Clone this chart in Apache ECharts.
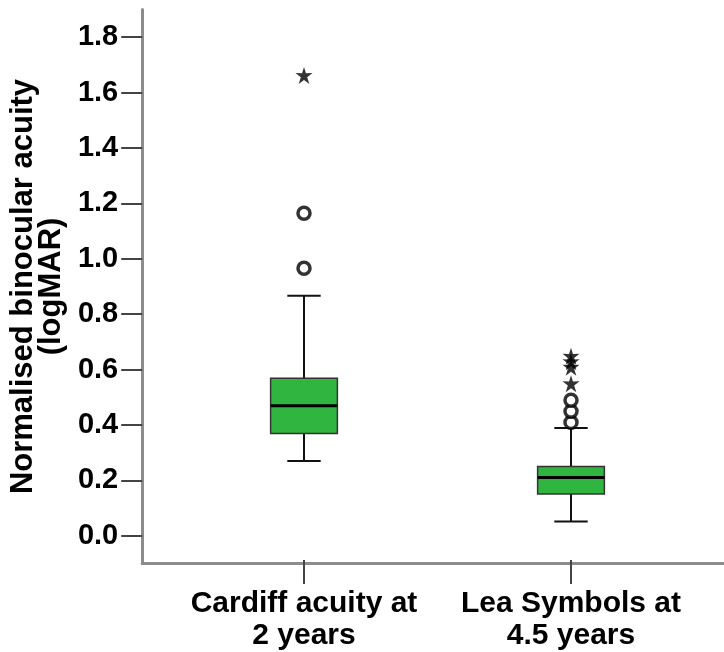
<!DOCTYPE html>
<html>
<head>
<meta charset="utf-8">
<script src="https://cdn.jsdelivr.net/npm/echarts@6/dist/echarts.min.js"></script>
<style>
html,body{margin:0;padding:0;background:#fff;}
#chart{width:724px;height:652px;}
</style>
</head>
<body>
<div id="chart"></div>
<script>
const categories = ['Cardiff acuity at\n2 years', 'Lea Symbols at\n4.5 years'];
// [min whisker, Q1, median, Q3, max whisker]
const boxStats = [
  [0.26, 0.36, 0.46, 0.56, 0.86],
  [0.04, 0.14, 0.20, 0.24, 0.38]
];
// circles: [category index, value]
const mildOutliers = [[0, 0.96], [0, 1.16], [1, 0.40], [1, 0.44], [1, 0.48]];
// stars: [category index, value]
const extremeOutliers = [[0, 1.66], [1, 0.54], [1, 0.60], [1, 0.62], [1, 0.64]];
const yTicks = [0, 0.2, 0.4, 0.6, 0.8, 1.0, 1.2, 1.4, 1.6, 1.8];
const yTitle = 'Normalised binocular acuity\n(logMAR)';

const FONT = 'Liberation Sans';
const chart = echarts.init(document.getElementById('chart'), null, {renderer: 'canvas'});

const starPath = 'path://M50,0 L61,34 L98,33 L68,56 L80,93 L50,71 L20,93 L32,56 L2,33 L39,34 Z';

const option = {
  animation: false,
  backgroundColor: '#fff',
  grid: [
    {left: 141, right: 0, top: 9.5, bottom: 88.5},
    {left: 170.5, right: 19.5, top: 9.5, bottom: 88.5}
  ],
  xAxis: [
    {
      gridIndex: 0, type: 'value', min: 0, max: 1, position: 'bottom',
      axisLine: {show: true, onZero: false, lineStyle: {color: '#8c8c8c', width: 3}},
      axisTick: {show: false}, axisLabel: {show: false}, splitLine: {show: false}
    },
    {
      gridIndex: 1, type: 'category', data: categories, boundaryGap: true, position: 'bottom',
      axisLine: {show: false, onZero: false},
      axisTick: {show: true, alignWithLabel: true, length: 24, lineStyle: {color: '#444', width: 2}},
      axisLabel: {
        interval: 0, margin: 28, fontFamily: FONT, fontSize: 30, fontWeight: 'bold', color: '#000',
        lineHeight: 32, align: 'center'
      },
      splitLine: {show: false}
    }
  ],
  yAxis: [
    {
      gridIndex: 0, type: 'value', min: -0.1, max: 1.9,
      name: yTitle, nameLocation: 'middle', nameGap: 72, nameRotate: 90,
      nameTextStyle: {fontFamily: FONT, fontSize: 31, fontWeight: 'bold', color: '#000', lineHeight: 28, align: 'center'},
      axisLine: {show: true, onZero: false, lineStyle: {color: '#8c8c8c', width: 3}},
      axisTick: {show: true, length: 21, customValues: yTicks, lineStyle: {color: '#444', width: 2}},
      axisLabel: {
        show: true, customValues: yTicks, margin: 24,
        fontFamily: FONT, fontSize: 29, fontWeight: 'bold', color: '#000',
        formatter: v => v.toFixed(1)
      },
      splitLine: {show: false}
    },
    {
      gridIndex: 1, type: 'value', min: -0.1, max: 1.9,
      axisLine: {show: false}, axisTick: {show: false}, axisLabel: {show: false}, splitLine: {show: false}
    }
  ],
  series: [
    {
      type: 'custom',
      xAxisIndex: 1, yAxisIndex: 1,
      data: boxStats.map((s, i) => [i].concat(s)),
      encode: {x: 0, y: [1, 2, 3, 4, 5]},
      renderItem: function (params, api) {
        const c = api.value(0);
        const pMin = api.coord([c, api.value(1)]);
        const pQ1 = api.coord([c, api.value(2)]);
        const pMed = api.coord([c, api.value(3)]);
        const pQ3 = api.coord([c, api.value(4)]);
        const pMax = api.coord([c, api.value(5)]);
        const band = api.size([1, 0])[0];
        const bw = band * 0.25;
        const cw = bw / 2;
        const x = pMed[0];
        const lineStyle = {stroke: '#111', lineWidth: 2};
        return {
          type: 'group',
          children: [
            {type: 'line', shape: {x1: x, y1: pMax[1], x2: x, y2: pQ3[1]}, style: lineStyle},
            {type: 'line', shape: {x1: x, y1: pQ1[1], x2: x, y2: pMin[1]}, style: lineStyle},
            {type: 'line', shape: {x1: x - cw / 2, y1: pMax[1], x2: x + cw / 2, y2: pMax[1]}, style: lineStyle},
            {type: 'line', shape: {x1: x - cw / 2, y1: pMin[1], x2: x + cw / 2, y2: pMin[1]}, style: lineStyle},
            {type: 'rect', shape: {x: x - bw / 2, y: pQ3[1], width: bw, height: pQ1[1] - pQ3[1]},
              style: {fill: '#2fb540', stroke: '#333', lineWidth: 1.5}},
            {type: 'line', shape: {x1: x - bw / 2, y1: pMed[1], x2: x + bw / 2, y2: pMed[1]},
              style: {stroke: '#000', lineWidth: 3}}
          ]
        };
      }
    },
    {
      type: 'scatter', xAxisIndex: 1, yAxisIndex: 1,
      data: mildOutliers,
      symbol: 'circle', symbolSize: 12,
      itemStyle: {color: '#fff', borderColor: '#000', borderWidth: 3.5},
      z: 5
    },
    {
      type: 'scatter', xAxisIndex: 1, yAxisIndex: 1,
      data: extremeOutliers,
      symbol: starPath, symbolSize: 17,
      itemStyle: {color: '#000'},
      z: 6
    }
  ]
};
chart.setOption(option);
</script>
</body>
</html>
